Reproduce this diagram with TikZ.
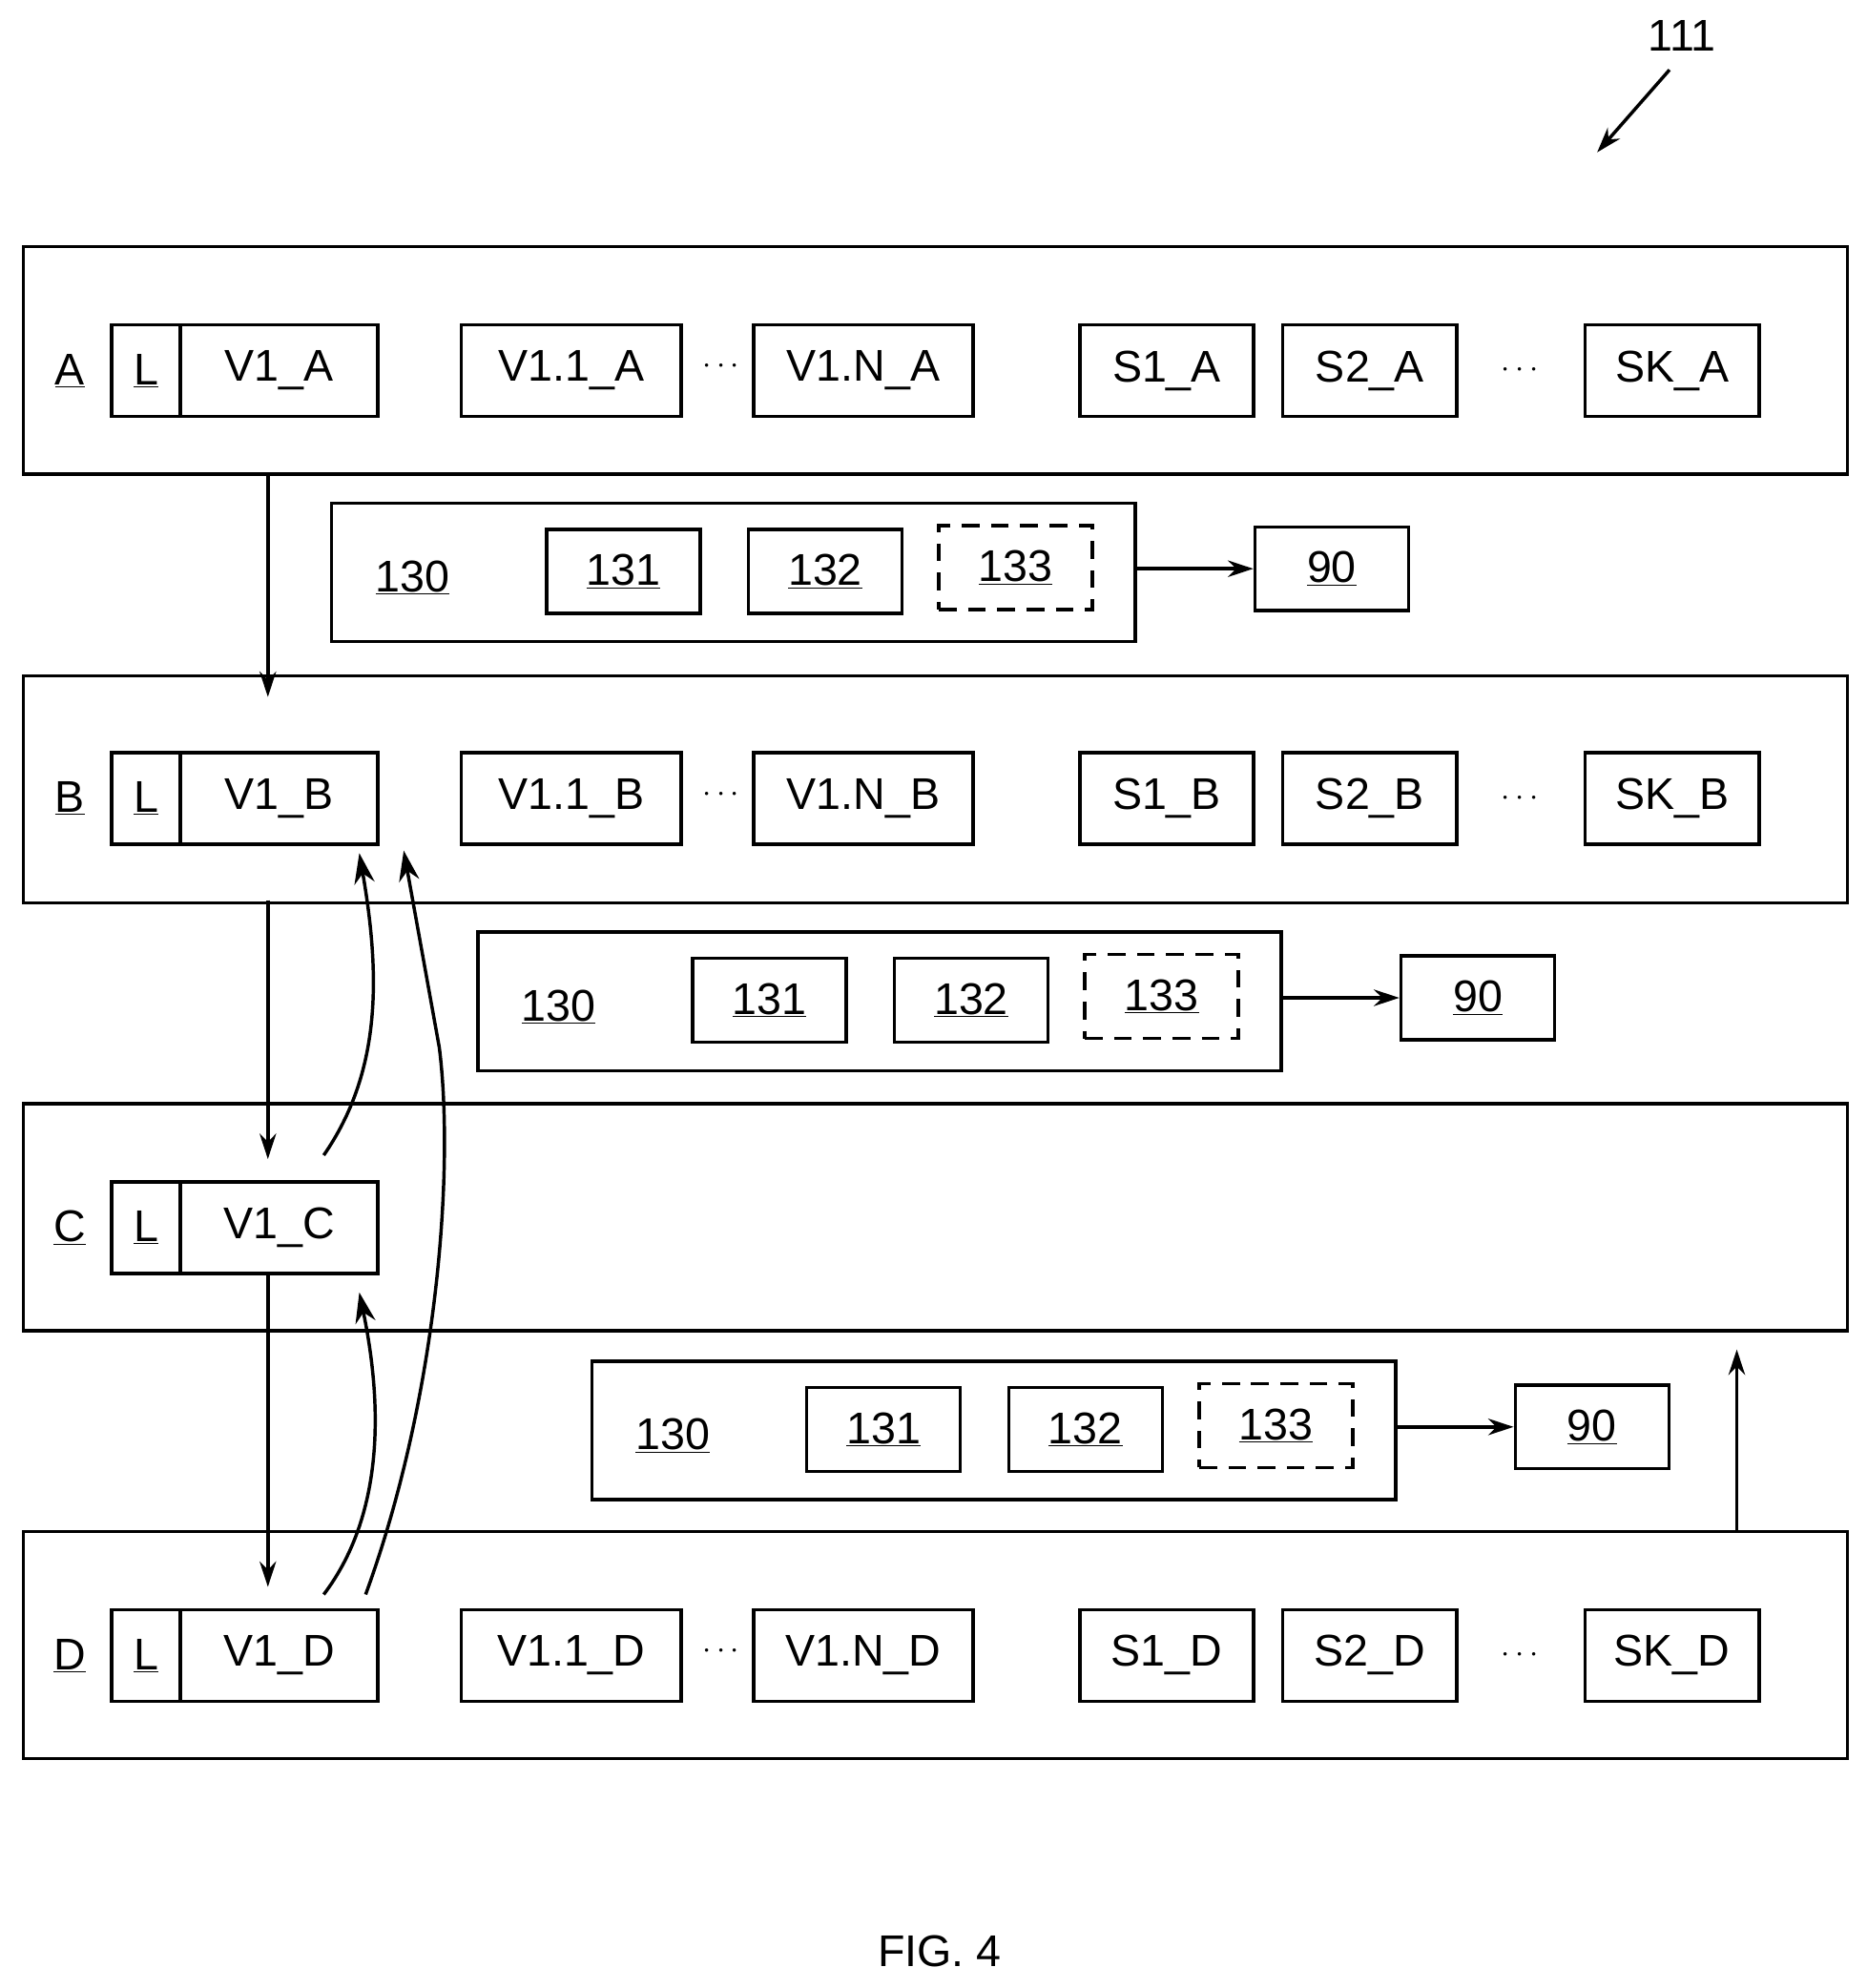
\documentclass[tikz,border=0pt]{standalone}
\usepackage{fontspec}
\setmainfont{Liberation Sans}
\usetikzlibrary{arrows.meta}
\begin{document}
\begin{tikzpicture}[x=1pt,y=-1pt,line width=2.6pt,
 txt/.style={font=\fontsize{35}{40}\selectfont,inner sep=0pt},
 bx/.style={draw,rectangle,minimum height=72pt,inner sep=0pt,font=\fontsize{35}{40}\selectfont},
 sb/.style={draw,rectangle,minimum height=66pt,minimum width=121pt,inner sep=0pt,font=\fontsize{35}{40}\selectfont},
 arr/.style={-{Stealth[length=24pt,width=16pt]}},
 arrs/.style={-{Stealth[length=20pt,width=13pt]}}]
\useasboundingbox (0,0) rectangle (1470,1566);
\node[txt] (n111) at (1325,28) {111};
\coordinate (p111a) at (1315,55); \coordinate (p111b) at (1258,120);
\draw[arrs] (p111a) -- (p111b);
% frames
\foreach \n/\y in {A/193,B/531,C/868,D/1205}{
 \node[draw,rectangle,minimum width=1437pt,minimum height=179pt,anchor=north west,inner sep=0pt] (F\n) at (17,\y) {};
}
% rows
\foreach \n/\y/\full in {A/292/1,B/629/1,C/967/0,D/1304/1}{
 \node[txt] (lab\n) at (55,\y) {\underline{\n}};
 \node[bx,minimum width=54pt] (L\n) at (115,\y) {\underline{L}};
 \node[bx,minimum width=155pt] (V\n) at (220,\y) {V1\_\n};
 \ifnum\full=1
 \node[bx,minimum width=173pt] (Va\n) at (450,\y) {V1.1\_\n};
 \node[txt] (d1\n) at (568,\y-3) {$\cdots$};
 \node[bx,minimum width=173pt] (Vn\n) at (680,\y) {V1.N\_\n};
 \node[bx,minimum width=137pt] (Sa\n) at (919,\y) {S1\_\n};
 \node[bx,minimum width=137pt] (Sb\n) at (1079,\y) {S2\_\n};
 \node[txt] (d2\n) at (1197,\y) {$\cdots$};
 \node[bx,minimum width=137pt] (Sk\n) at (1317,\y) {SK\_\n};
 \fi
}
% groups
\foreach \g/\dx/\dy in {1/0/0,2/115/338,3/205/676}{
 \begin{scope}[shift={(\dx,\dy)}]
 \node[draw,rectangle,minimum width=633pt,minimum height=109pt,anchor=north west,inner sep=0pt] (G\g) at (260,395) {};
 \node[txt] (t130\g) at (325,455) {\underline{130}};
 \node[sb] (b131\g) at (491,450) {\underline{131}};
 \node[sb] (b132\g) at (650,450) {\underline{132}};
 \node[sb,dashed,dash pattern=on 14pt off 9pt] (b133\g) at (800,447) {\underline{133}};
 \node[sb] (b90\g) at (1049,448) {\underline{90}};
 \end{scope}
 \draw[arrs] (G\g.east |- b90\g) -- (b90\g.west);
}
% vertical arrows
\coordinate (aA) at (211,372); \coordinate (aB) at (211,549);
\draw[arrs] (aA) -- (aB);
\coordinate (bB) at (211,709); \coordinate (bC) at (211,913);
\draw[arrs] (bB) -- (bC);
\coordinate (cC) at (211,1002); \coordinate (cD) at (211,1250);
\draw[arrs] (cC) -- (cD);
\coordinate (dD) at (1368,1205); \coordinate (dC) at (1368,1063);
\draw[arrs] (dD) -- (dC);
% curved
\coordinate (c1s) at (255,910); \coordinate (c1e) at (283,672);
\draw[arr] (c1s) .. controls (300,845) and (300,770) .. (c1e);
\coordinate (c2s) at (288,1256); \coordinate (c2m) at (346,825); \coordinate (c2e) at (318,670);
\draw[arr] (c2s) .. controls (345,1100) and (358,920) .. (c2m) -- (c2e);
\coordinate (c3s) at (255,1256); \coordinate (c3e) at (283,1018);
\draw[arr] (c3s) .. controls (305,1190) and (300,1100) .. (c3e);
\node[txt] (fig) at (740,1537) {FIG. 4};
\end{tikzpicture}
\end{document}
